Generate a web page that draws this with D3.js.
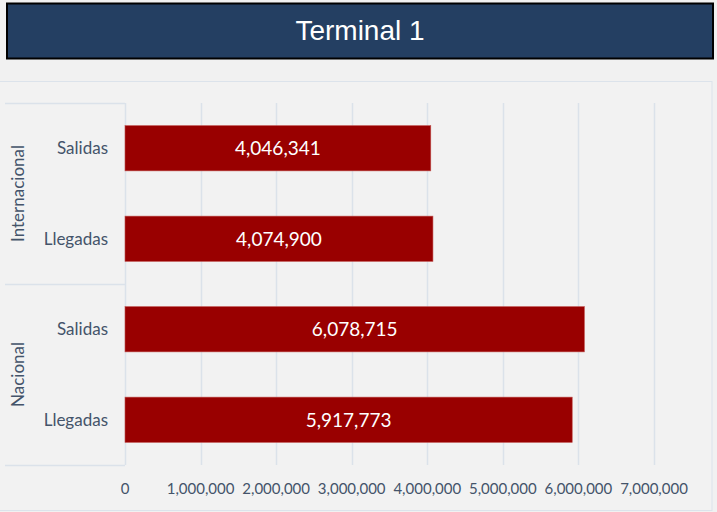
<!DOCTYPE html>
<html>
<head>
<meta charset="utf-8">
<script src="https://cdn.jsdelivr.net/npm/d3@7"></script>
<style>
  body { margin: 0; background: #f1f1f1; }
  svg { display: block; }
</style>
</head>
<body>
<svg class="chart"></svg>
<script>
const title = 'Terminal 1'
const groups = ['Internacional', 'Nacional']
const categories = ['Salidas', 'Llegadas']
const values = [4046341, 4074900, 6078715, 5917773]
const xTicks = [0, 1000000, 2000000, 3000000, 4000000, 5000000, 6000000, 7000000]

const width = 717
const height = 512
const gridColor = '#dbe2ea'
const textColor = '#44546a'

const rows = []
groups.forEach((g, gi) => {
  categories.forEach((c, ci) => {
    rows.push({ group: g, cat: c, key: `${g}-${c}`, value: values[gi * categories.length + ci] })
  })
})

const chart = d3.select('.chart')
  .attr('width', width)
  .attr('height', height)

chart.append('rect')
  .attr('width', width).attr('height', height)
  .attr('fill', '#f1f1f1')

// chart frame
chart.append('rect')
  .attr('x', -1).attr('y', 81.5)
  .attr('width', 713).attr('height', 429)
  .attr('fill', '#f2f2f2')
  .attr('stroke', '#dce3eb')

// title banner
chart.append('rect')
  .attr('x', 7).attr('y', 3.5)
  .attr('width', 706).attr('height', 55)
  .attr('fill', '#243f62')
  .attr('stroke', '#000')
  .attr('stroke-width', 2)

chart.append('text')
  .attr('x', 360).attr('y', 40)
  .attr('text-anchor', 'middle')
  .attr('fill', '#fff')
  .style('font', '28px "Liberation Sans", Arial, sans-serif')
  .text(title)

const x = d3.scaleLinear()
  .domain([0, 7000000])
  .range([125, 654])

const y = d3.scaleBand()
  .domain(rows.map(r => r.key))
  .range([103, 465])
  .paddingInner(0.5)
  .paddingOuter(0.25)

const groupScale = d3.scaleBand()
  .domain(groups)
  .range([103, 465])

// gridlines
chart.append('g').attr('class', 'grid')
  .selectAll('line')
  .data(xTicks)
  .enter()
  .append('line')
  .attr('x1', d => Math.round(x(d)) + 0.5)
  .attr('x2', d => Math.round(x(d)) + 0.5)
  .attr('y1', 103)
  .attr('y2', 465)
  .attr('stroke', gridColor)
  .attr('stroke-width', 1.5)

// group boxes on the left
chart.append('g').attr('class', 'groupLines')
  .selectAll('line')
  .data([groupScale(groups[0]), groupScale(groups[1]), 465])
  .enter()
  .append('line')
  .attr('x1', 5).attr('x2', 125)
  .attr('y1', d => d + 0.5).attr('y2', d => d + 0.5)
  .attr('stroke', gridColor)
  .attr('stroke-width', 1.5)

// bars
chart.append('g').attr('class', 'bars')
  .selectAll('rect')
  .data(rows)
  .enter()
  .append('rect')
  .attr('x', x(0))
  .attr('y', d => y(d.key))
  .attr('width', d => x(d.value) - x(0))
  .attr('height', y.bandwidth())
  .attr('fill', '#990000')
  .attr('stroke', '#c0504d')
  .attr('stroke-width', 0.6)

chart.append('g').attr('class', 'barLabels')
  .selectAll('text')
  .data(rows)
  .enter()
  .append('text')
  .attr('x', d => (x(0) + x(d.value)) / 2)
  .attr('y', d => y(d.key) + y.bandwidth() / 2)
  .attr('dy', '0.36em')
  .attr('text-anchor', 'middle')
  .attr('fill', '#fff')
  .style('font', '19px Lato, "Open Sans", sans-serif')
  .text(d => d3.format(',')(d.value))

// category labels
chart.append('g').attr('class', 'axisLeft')
  .selectAll('text')
  .data(rows)
  .enter()
  .append('text')
  .attr('x', 108)
  .attr('y', d => y(d.key) + y.bandwidth() / 2)
  .attr('dy', '0.36em')
  .attr('text-anchor', 'end')
  .attr('fill', textColor)
  .style('font', '17px Lato, "Open Sans", sans-serif')
  .text(d => d.cat)

// group labels
chart.append('g').attr('class', 'groupLabels')
  .selectAll('text')
  .data(groups)
  .enter()
  .append('text')
  .attr('transform', g => `translate(24,${groupScale(g) + groupScale.bandwidth() / 2}) rotate(-90)`)
  .attr('text-anchor', 'middle')
  .attr('fill', textColor)
  .style('font', '17px Lato, "Open Sans", sans-serif')
  .text(g => g)

// x axis labels
chart.append('g').attr('class', 'axisBottom')
  .selectAll('text')
  .data(xTicks)
  .enter()
  .append('text')
  .attr('x', d => x(d))
  .attr('y', 494)
  .attr('text-anchor', 'middle')
  .attr('fill', textColor)
  .style('font', '15px Lato, "Open Sans", sans-serif')
  .text(d => d3.format(',')(d))
</script>
</body>
</html>
